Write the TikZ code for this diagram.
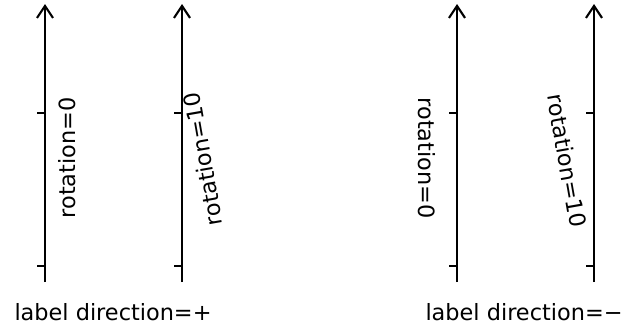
\documentclass[tikz,border=0pt]{standalone}
\usepackage{fontspec}
\setmainfont{DejaVu Sans}
\usepackage{tikz}
\usetikzlibrary{arrows.meta}
\tikzstyle{axisline} = [line width=1.8pt, -{Straight Barb[length=9pt, width=12pt, line width=1.6pt]}]
\tikzstyle{tickmark} = [line width=1.6pt]
\tikzstyle{ticklabel} = [inner sep=0pt, font=\fontsize{16.8}{20}\selectfont]
\tikzstyle{caption} = [inner sep=0pt, font=\fontsize{16.8}{20}\selectfont]

\begin{document}
\begin{tikzpicture}[x=0.75pt, y=-0.75pt]
        \useasboundingbox (0,0) rectangle (623,326);

        % Axes
        \coordinate (bot1) at (45,282);   \coordinate (top1) at (45,4);
        \coordinate (bot2) at (182,282);  \coordinate (top2) at (182,4);
        \coordinate (bot3) at (457,282);  \coordinate (top3) at (457,4);
        \coordinate (bot4) at (594,282);  \coordinate (top4) at (594,4);
        \draw [axisline] (bot1) -- (top1);
        \draw [axisline] (bot2) -- (top2);
        \draw [axisline] (bot3) -- (top3);
        \draw [axisline] (bot4) -- (top4);

        % Ticks
        \draw [tickmark] (45,113) -- ++(-8,0);
        \draw [tickmark] (45,266) -- ++(-8,0);
        \draw [tickmark] (182,113) -- ++(-8,0);
        \draw [tickmark] (182,266) -- ++(-8,0);
        \draw [tickmark] (457,113) -- ++(-8,0);
        \draw [tickmark] (457,266) -- ++(-8,0);
        \draw [tickmark] (594,113) -- ++(-8,0);
        \draw [tickmark] (594,266) -- ++(-8,0);

        % Labels
        \node (lab1) [ticklabel, rotate=90] at (67,158) {rotation=0};
        \node (lab2) [ticklabel, rotate=100] at (203,159) {rotation=10};
        \node (lab3) [ticklabel, rotate=-90] at (427,158) {rotation=0};
        \node (lab4) [ticklabel, rotate=-80] at (567,161) {rotation=10};

        \node (cap1) [caption] at (113,312) {label direction=+};
        \node (cap2) [caption] at (524,312) {label direction=−};
    \end{tikzpicture}
\end{document}
